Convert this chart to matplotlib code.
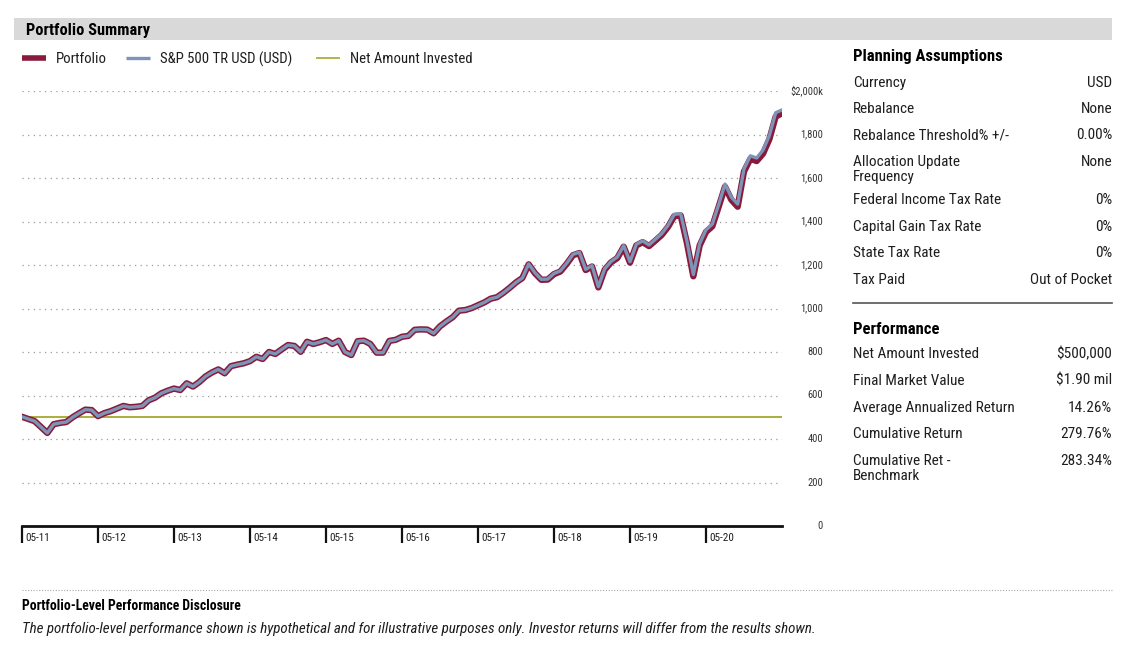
import matplotlib
matplotlib.use("Agg")
import matplotlib.pyplot as plt
from matplotlib.lines import Line2D
from matplotlib.patches import Rectangle

plt.rcParams['font.family'] = ['Roboto Condensed', 'Liberation Sans Narrow', 'DejaVu Sans']
plt.rcParams['font.stretch'] = 'condensed'

# monthly values, $k, 05-2011 .. 05-2021
portfolio = [502, 492, 482, 455, 428, 468, 474, 478, 500, 518, 535, 533,
             505, 519, 528, 540, 552, 546, 548, 552, 578, 590, 610, 622,
             632, 625, 656, 641, 662, 688, 706, 720, 702, 735, 742, 748,
             758, 778, 768, 800, 791, 812, 832, 828, 801, 847, 837, 845,
             855, 837, 852, 800, 786, 850, 852, 837, 797, 797, 851, 856,
             870, 874, 902, 904, 903, 886, 918, 940, 960, 990, 993, 1002,
             1015, 1028, 1045, 1052, 1072, 1095, 1120, 1140, 1203, 1162, 1132, 1133,
             1158, 1170, 1205, 1245, 1255, 1177, 1193, 1097, 1178, 1212, 1232, 1284,
             1211, 1290, 1305, 1287, 1312, 1338, 1375, 1425, 1428, 1300, 1148, 1290,
             1352, 1378, 1468, 1560, 1500, 1468, 1630, 1688, 1678, 1712, 1778, 1882,
             1898]
sp500 = [502, 492, 482, 455, 428, 468, 474, 478, 500, 518, 535, 533,
         505, 519, 528, 540, 552, 546, 548, 552, 578, 590, 610, 622,
         632, 625, 656, 641, 662, 688, 706, 720, 702, 735, 742, 748,
         758, 778, 768, 800, 791, 812, 832, 828, 801, 847, 837, 845,
         855, 837, 852, 800, 786, 850, 852, 837, 797, 797, 851, 856,
         870, 874, 902, 904, 903, 886, 918, 940, 960, 990, 993, 1002,
         1015, 1028, 1045, 1052, 1072, 1095, 1120, 1140, 1205, 1164, 1134, 1135,
         1161, 1173, 1208, 1249, 1259, 1180, 1197, 1100, 1182, 1216, 1237, 1289,
         1215, 1295, 1311, 1292, 1318, 1344, 1382, 1433, 1436, 1308, 1156, 1298,
         1362, 1388, 1478, 1572, 1512, 1480, 1642, 1702, 1692, 1728, 1795, 1900,
         1913]
net_invested = 500
year_labels = ['05-11', '05-12', '05-13', '05-14', '05-15',
               '05-16', '05-17', '05-18', '05-19', '05-20']
y_ticks = [0, 200, 400, 600, 800, 1000, 1200, 1400, 1600, 1800, 2000]

planning = [('Currency', 'USD'), ('Rebalance', 'None'),
            ('Rebalance Threshold% +/-', '0.00%'),
            ('Allocation Update\nFrequency', 'None'),
            ('Federal Income Tax Rate', '0%'), ('Capital Gain Tax Rate', '0%'),
            ('State Tax Rate', '0%'), ('Tax Paid', 'Out of Pocket')]
planning_y = [83, 109, 135, 162, 200, 227, 253, 280]
performance = [('Net Amount Invested', '$500,000'), ('Final Market Value', '$1.90 mil'),
               ('Average Annualized Return', '14.26%'), ('Cumulative Return', '279.76%'),
               ('Cumulative Ret -\nBenchmark', '283.34%')]
performance_y = [354, 381, 408, 434, 461]

RED = '#8a1a3c'
BLUE = '#7d94b6'
GREEN = '#a2a82c'
TXT = '#1e1e1e'

W, H = 1128, 651
fig = plt.figure(figsize=(W / 100, H / 100), dpi=100)


def fx(x):
    return x / W


def fy(y):
    return 1 - y / H


# header band
fig.add_artist(Rectangle((fx(14), fy(40)), fx(1112) - fx(14), fy(18) - fy(40),
                         transform=fig.transFigure, color='#d9d9d9', lw=0))
fig.text(fx(26), fy(30), 'Portfolio Summary', fontsize=11.8, fontweight='bold',
         color='black', va='center')

# legend
leg = [(22, 'Portfolio', RED, 4.0), (126, 'S&P 500 TR USD (USD)', BLUE, 2.4),
       (316, 'Net Amount Invested', GREEN, 1.2)]
for x0, lab, col, lw in leg:
    fig.add_artist(Line2D([fx(x0), fx(x0 + 24)], [fy(58), fy(58)], color=col, lw=lw,
                          transform=fig.transFigure, solid_capstyle='butt'))
    fig.text(fx(x0 + 34), fy(59), lab, fontsize=10.6, color=TXT, va='center')

# chart
ax = fig.add_axes([fx(22), fy(526), fx(782) - fx(22), fy(91) - fy(526)])
months = list(range(len(portfolio)))
ax.plot(months, portfolio, color=RED, lw=4.6, solid_joinstyle='round', zorder=3)
ax.plot(months, sp500, color=BLUE, lw=2.4, solid_joinstyle='round', zorder=4)
ax.axhline(net_invested, color=GREEN, lw=1.3, zorder=2)
ax.set_xlim(0, 120)
ax.set_ylim(0, 2000)
ax.set_yticks(y_ticks)
ax.set_yticklabels([])
ax.yaxis.grid(True, color='#9a9a9a', lw=0.9, linestyle=(0, (1, 3.5)))
ax.tick_params(axis='y', length=0)
for s in ['top', 'left', 'right']:
    ax.spines[s].set_visible(False)
ax.spines['bottom'].set_linewidth(2)
ax.spines['bottom'].set_color('#111111')
ax.set_xticks([12 * i for i in range(len(year_labels))])
ax.set_xticklabels([])
ax.tick_params(axis='x', direction='out', length=12, width=1.6, color='#111111')
for i, lab in enumerate(year_labels):
    ax.annotate(lab, xy=(12 * i, 0), xycoords=ax.get_xaxis_transform(),
                xytext=(2.3, -8.3), textcoords='offset points', fontsize=8,
                color=TXT, ha='left', va='center')
for v in y_ticks:
    lab = '$2,000k' if v == 2000 else f'{v:,}'
    ax.annotate(lab, xy=(1, v), xycoords=ax.get_yaxis_transform(),
                xytext=(29.5, 0), textcoords='offset points', fontsize=7.6,
                color='#333333', ha='right', va='center')

# planning assumptions
fig.text(fx(853), fy(57), 'Planning Assumptions', fontsize=12, fontweight='bold',
         color='black', va='center')
for (lab, val), y in zip(planning, planning_y):
    fig.text(fx(853), fy(y - 7), lab, fontsize=11, color=TXT, va='top', linespacing=1.05)
    fig.text(fx(1112), fy(y - 7), val, fontsize=11, color=TXT, va='top', ha='right')
fig.add_artist(Line2D([fx(853), fx(1112)], [fy(303), fy(303)], color='#555555', lw=1.2,
                      transform=fig.transFigure))

fig.text(fx(853), fy(329), 'Performance', fontsize=12, fontweight='bold',
         color='black', va='center')
for (lab, val), y in zip(performance, performance_y):
    fig.text(fx(853), fy(y - 7), lab, fontsize=11, color=TXT, va='top', linespacing=1.05)
    fig.text(fx(1112), fy(y - 7), val, fontsize=11, color=TXT, va='top', ha='right')

# disclosure
fig.add_artist(Line2D([fx(22), fx(1112)], [fy(590), fy(590)], color='#aaaaaa', lw=0.8,
                      linestyle=(0, (1, 1.5)), transform=fig.transFigure))
fig.text(fx(22), fy(606), 'Portfolio-Level Performance Disclosure', fontsize=9.9,
         fontweight='bold', color='black', va='center')
fig.text(fx(22), fy(629), 'The portfolio-level performance shown is hypothetical and for '
         'illustrative purposes only. Investor returns will differ from the results shown.',
         fontsize=10.8, style='italic', color=TXT, va='center')

fig.savefig('out.png', dpi=100)
